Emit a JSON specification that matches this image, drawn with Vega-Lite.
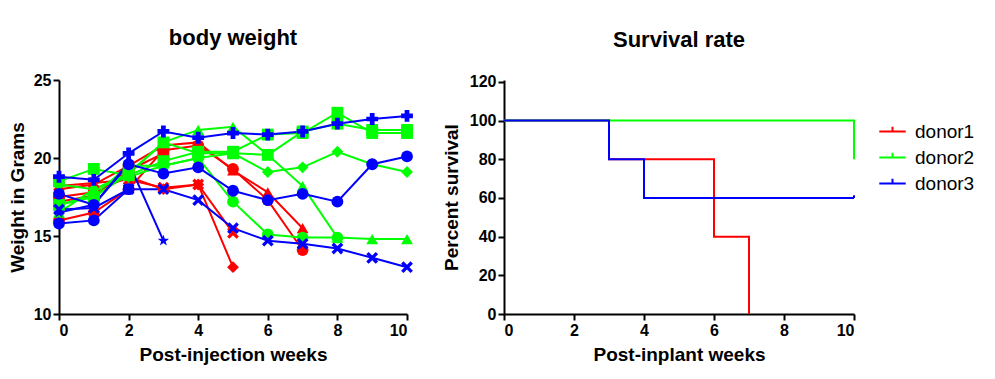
{
  "$schema": "https://vega.github.io/schema/vega-lite/v6.json",
  "background": "white",
  "padding": {"left": 8, "top": 27, "right": 5, "bottom": 5},
  "config": {
    "view": {"stroke": null},
    "font": "Liberation Sans",
    "axis": {
      "grid": false,
      "domainColor": "#000000",
      "domainWidth": 2,
      "tickColor": "#000000",
      "tickWidth": 2,
      "tickSize": 6,
      "labelColor": "#000000",
      "labelFont": "Liberation Sans",
      "labelFontWeight": "bold",
      "labelFontSize": 16,
      "labelPadding": 2,
      "titleColor": "#000000",
      "titleFont": "Liberation Sans",
      "titleFontWeight": "bold",
      "titleFontSize": 19
    },
    "title": {"font": "Liberation Sans", "fontSize": 22, "fontWeight": "bold", "color": "#000000", "offset": 22},
    "legend": {"labelFont": "Liberation Sans", "labelFontSize": 19, "labelColor": "#000000"}
  },
  "datasets": {
    "weights": [
      {"mouse": "R1", "donor": "donor1", "week": 0, "weight": 18.0},
      {"mouse": "R1", "donor": "donor1", "week": 1, "weight": 18.3},
      {"mouse": "R1", "donor": "donor1", "week": 2, "weight": 19.5},
      {"mouse": "R1", "donor": "donor1", "week": 3, "weight": 20.8},
      {"mouse": "R1", "donor": "donor1", "week": 4, "weight": 21.0},
      {"mouse": "R1", "donor": "donor1", "week": 5, "weight": 19.2},
      {"mouse": "R1", "donor": "donor1", "week": 6, "weight": 17.8},
      {"mouse": "R1", "donor": "donor1", "week": 7, "weight": 15.5},
      {"mouse": "R2", "donor": "donor1", "week": 0, "weight": 16.0},
      {"mouse": "R2", "donor": "donor1", "week": 1, "weight": 16.5},
      {"mouse": "R2", "donor": "donor1", "week": 2, "weight": 18.0},
      {"mouse": "R2", "donor": "donor1", "week": 3, "weight": 20.5},
      {"mouse": "R2", "donor": "donor1", "week": 4, "weight": 20.8},
      {"mouse": "R2", "donor": "donor1", "week": 5, "weight": 19.3},
      {"mouse": "R2", "donor": "donor1", "week": 6, "weight": 17.3},
      {"mouse": "R2", "donor": "donor1", "week": 7, "weight": 14.1},
      {"mouse": "R3", "donor": "donor1", "week": 0, "weight": 17.5},
      {"mouse": "R3", "donor": "donor1", "week": 1, "weight": 17.8},
      {"mouse": "R3", "donor": "donor1", "week": 2, "weight": 18.8},
      {"mouse": "R3", "donor": "donor1", "week": 3, "weight": 18.0},
      {"mouse": "R3", "donor": "donor1", "week": 4, "weight": 18.3},
      {"mouse": "R3", "donor": "donor1", "week": 5, "weight": 13.0},
      {"mouse": "R4", "donor": "donor1", "week": 0, "weight": 18.2},
      {"mouse": "R4", "donor": "donor1", "week": 1, "weight": 18.4},
      {"mouse": "R4", "donor": "donor1", "week": 2, "weight": 18.6},
      {"mouse": "R4", "donor": "donor1", "week": 3, "weight": 18.1},
      {"mouse": "R4", "donor": "donor1", "week": 4, "weight": 18.3},
      {"mouse": "R4", "donor": "donor1", "week": 5, "weight": 15.2},
      {"mouse": "R5", "donor": "donor1", "week": 0, "weight": 17.2},
      {"mouse": "R5", "donor": "donor1", "week": 1, "weight": 17.6},
      {"mouse": "R5", "donor": "donor1", "week": 2, "weight": 19.2},
      {"mouse": "R5", "donor": "donor1", "week": 3, "weight": 20.3},
      {"mouse": "G1", "donor": "donor2", "week": 0, "weight": 18.5},
      {"mouse": "G1", "donor": "donor2", "week": 1, "weight": 19.3},
      {"mouse": "G1", "donor": "donor2", "week": 2, "weight": 18.9},
      {"mouse": "G1", "donor": "donor2", "week": 3, "weight": 19.8},
      {"mouse": "G1", "donor": "donor2", "week": 4, "weight": 20.4},
      {"mouse": "G1", "donor": "donor2", "week": 5, "weight": 20.4},
      {"mouse": "G1", "donor": "donor2", "week": 6, "weight": 21.5},
      {"mouse": "G1", "donor": "donor2", "week": 7, "weight": 21.6},
      {"mouse": "G1", "donor": "donor2", "week": 8, "weight": 22.9},
      {"mouse": "G1", "donor": "donor2", "week": 9, "weight": 21.6},
      {"mouse": "G1", "donor": "donor2", "week": 10, "weight": 21.6},
      {"mouse": "G2", "donor": "donor2", "week": 0, "weight": 17.0},
      {"mouse": "G2", "donor": "donor2", "week": 1, "weight": 17.5},
      {"mouse": "G2", "donor": "donor2", "week": 2, "weight": 19.0},
      {"mouse": "G2", "donor": "donor2", "week": 3, "weight": 21.0},
      {"mouse": "G2", "donor": "donor2", "week": 4, "weight": 20.3},
      {"mouse": "G2", "donor": "donor2", "week": 5, "weight": 20.3},
      {"mouse": "G2", "donor": "donor2", "week": 6, "weight": 20.2},
      {"mouse": "G2", "donor": "donor2", "week": 7, "weight": 21.7},
      {"mouse": "G2", "donor": "donor2", "week": 8, "weight": 22.2},
      {"mouse": "G2", "donor": "donor2", "week": 9, "weight": 21.8},
      {"mouse": "G2", "donor": "donor2", "week": 10, "weight": 21.8},
      {"mouse": "G3", "donor": "donor2", "week": 0, "weight": 16.5},
      {"mouse": "G3", "donor": "donor2", "week": 1, "weight": 18.0},
      {"mouse": "G3", "donor": "donor2", "week": 2, "weight": 19.0},
      {"mouse": "G3", "donor": "donor2", "week": 3, "weight": 21.0},
      {"mouse": "G3", "donor": "donor2", "week": 4, "weight": 21.8},
      {"mouse": "G3", "donor": "donor2", "week": 5, "weight": 22.0},
      {"mouse": "G3", "donor": "donor2", "week": 6, "weight": 20.2},
      {"mouse": "G3", "donor": "donor2", "week": 7, "weight": 18.2},
      {"mouse": "G3", "donor": "donor2", "week": 8, "weight": 14.9},
      {"mouse": "G3", "donor": "donor2", "week": 9, "weight": 14.8},
      {"mouse": "G3", "donor": "donor2", "week": 10, "weight": 14.8},
      {"mouse": "G4", "donor": "donor2", "week": 0, "weight": 18.3},
      {"mouse": "G4", "donor": "donor2", "week": 1, "weight": 18.0},
      {"mouse": "G4", "donor": "donor2", "week": 2, "weight": 18.8},
      {"mouse": "G4", "donor": "donor2", "week": 3, "weight": 19.5},
      {"mouse": "G4", "donor": "donor2", "week": 4, "weight": 20.0},
      {"mouse": "G4", "donor": "donor2", "week": 5, "weight": 20.3},
      {"mouse": "G4", "donor": "donor2", "week": 6, "weight": 19.1},
      {"mouse": "G4", "donor": "donor2", "week": 7, "weight": 19.4},
      {"mouse": "G4", "donor": "donor2", "week": 8, "weight": 20.4},
      {"mouse": "G4", "donor": "donor2", "week": 9, "weight": 19.6},
      {"mouse": "G4", "donor": "donor2", "week": 10, "weight": 19.1},
      {"mouse": "G5", "donor": "donor2", "week": 0, "weight": 17.0},
      {"mouse": "G5", "donor": "donor2", "week": 1, "weight": 17.6},
      {"mouse": "G5", "donor": "donor2", "week": 2, "weight": 19.5},
      {"mouse": "G5", "donor": "donor2", "week": 3, "weight": 19.5},
      {"mouse": "G5", "donor": "donor2", "week": 4, "weight": 20.0},
      {"mouse": "G5", "donor": "donor2", "week": 5, "weight": 17.2},
      {"mouse": "G5", "donor": "donor2", "week": 6, "weight": 15.1},
      {"mouse": "G5", "donor": "donor2", "week": 7, "weight": 14.9},
      {"mouse": "G5", "donor": "donor2", "week": 8, "weight": 14.9},
      {"mouse": "B1", "donor": "donor3", "week": 0, "weight": 18.8},
      {"mouse": "B1", "donor": "donor3", "week": 1, "weight": 18.6},
      {"mouse": "B1", "donor": "donor3", "week": 2, "weight": 20.3},
      {"mouse": "B1", "donor": "donor3", "week": 3, "weight": 21.7},
      {"mouse": "B1", "donor": "donor3", "week": 4, "weight": 21.3},
      {"mouse": "B1", "donor": "donor3", "week": 5, "weight": 21.6},
      {"mouse": "B1", "donor": "donor3", "week": 6, "weight": 21.5},
      {"mouse": "B1", "donor": "donor3", "week": 7, "weight": 21.7},
      {"mouse": "B1", "donor": "donor3", "week": 8, "weight": 22.2},
      {"mouse": "B1", "donor": "donor3", "week": 9, "weight": 22.5},
      {"mouse": "B1", "donor": "donor3", "week": 10, "weight": 22.7},
      {"mouse": "B2", "donor": "donor3", "week": 0, "weight": 17.7},
      {"mouse": "B2", "donor": "donor3", "week": 1, "weight": 17.0},
      {"mouse": "B2", "donor": "donor3", "week": 2, "weight": 19.6},
      {"mouse": "B2", "donor": "donor3", "week": 3, "weight": 19.0},
      {"mouse": "B2", "donor": "donor3", "week": 4, "weight": 19.4},
      {"mouse": "B2", "donor": "donor3", "week": 5, "weight": 17.9},
      {"mouse": "B2", "donor": "donor3", "week": 6, "weight": 17.3},
      {"mouse": "B2", "donor": "donor3", "week": 7, "weight": 17.7},
      {"mouse": "B2", "donor": "donor3", "week": 8, "weight": 17.2},
      {"mouse": "B2", "donor": "donor3", "week": 9, "weight": 19.6},
      {"mouse": "B2", "donor": "donor3", "week": 10, "weight": 20.1},
      {"mouse": "B3", "donor": "donor3", "week": 0, "weight": 16.7},
      {"mouse": "B3", "donor": "donor3", "week": 1, "weight": 16.8},
      {"mouse": "B3", "donor": "donor3", "week": 2, "weight": 18.0},
      {"mouse": "B3", "donor": "donor3", "week": 3, "weight": 18.0},
      {"mouse": "B3", "donor": "donor3", "week": 4, "weight": 17.3},
      {"mouse": "B3", "donor": "donor3", "week": 5, "weight": 15.5},
      {"mouse": "B3", "donor": "donor3", "week": 6, "weight": 14.7},
      {"mouse": "B3", "donor": "donor3", "week": 7, "weight": 14.5},
      {"mouse": "B3", "donor": "donor3", "week": 8, "weight": 14.2},
      {"mouse": "B3", "donor": "donor3", "week": 9, "weight": 13.6},
      {"mouse": "B3", "donor": "donor3", "week": 10, "weight": 13.0},
      {"mouse": "B4", "donor": "donor3", "week": 0, "weight": 16.5},
      {"mouse": "B4", "donor": "donor3", "week": 1, "weight": 17.0},
      {"mouse": "B4", "donor": "donor3", "week": 2, "weight": 19.7},
      {"mouse": "B4", "donor": "donor3", "week": 3, "weight": 14.7},
      {"mouse": "B5", "donor": "donor3", "week": 0, "weight": 15.8},
      {"mouse": "B5", "donor": "donor3", "week": 1, "weight": 16.0},
      {"mouse": "B5", "donor": "donor3", "week": 2, "weight": 18.0}
    ],
    "survival": [
      {"donor": "donor1", "seq": 1, "week": 0, "percent": 100},
      {"donor": "donor1", "seq": 2, "week": 3, "percent": 80},
      {"donor": "donor1", "seq": 3, "week": 6, "percent": 40},
      {"donor": "donor1", "seq": 4, "week": 7, "percent": 0},
      {"donor": "donor2", "seq": 1, "week": 0, "percent": 100},
      {"donor": "donor2", "seq": 2, "week": 10, "percent": 100},
      {"donor": "donor2", "seq": 3, "week": 10, "percent": 80},
      {"donor": "donor3", "seq": 1, "week": 0, "percent": 100},
      {"donor": "donor3", "seq": 2, "week": 3, "percent": 80},
      {"donor": "donor3", "seq": 3, "week": 4, "percent": 60},
      {"donor": "donor3", "seq": 4, "week": 10, "percent": 60}
    ],
    "censored": [
      {"donor": "donor3", "week": 10, "percent": 60}
    ]
  },
  "resolve": {"scale": {"color": "independent", "shape": "independent"}, "legend": {"color": "independent"}},
  "spacing": 29,
  "hconcat": [
    {
      "width": 348,
      "height": 234,
      "title": {"text": "body weight"},
      "data": {"name": "weights"},
      "encoding": {
        "x": {"field": "week", "type": "quantitative", "scale": {"domain": [0, 10], "nice": false}, "axis": {"values": [0, 2, 4, 6, 8, 10], "title": "Post-injection weeks", "titlePadding": 7}},
        "y": {"field": "weight", "type": "quantitative", "scale": {"domain": [10, 25], "nice": false, "zero": false}, "axis": {"values": [10, 15, 20, 25], "title": "Weight in Grams", "titlePadding": 6}},
        "color": {"field": "donor", "type": "nominal", "scale": {"domain": ["donor1", "donor2", "donor3"], "range": ["#ff0000", "#00ff00", "#0000ff"]}, "legend": null}
      },
      "layer": [
        {"mark": {"type": "line", "strokeWidth": 2}, "encoding": {"detail": {"field": "mouse", "type": "nominal"}, "order": {"field": "week", "type": "quantitative"}}},
        {"mark": {"type": "point", "filled": true, "opacity": 1, "size": 140},
         "encoding": {"shape": {"field": "mouse", "type": "nominal",
           "scale": {"domain": ["R1", "R2", "R3", "R4", "R5", "G1", "G2", "G3", "G4", "G5", "B1", "B2", "B3", "B4", "B5"],
                     "range": ["triangle-up", "circle", "diamond", "M-1,-0.6L-0.6,-1L0,-0.4L0.6,-1L1,-0.6L0.4,0L1,0.6L0.6,1L0,0.4L-0.6,1L-1,0.6L-0.4,0Z", "square", "square", "square", "triangle-up", "diamond", "circle", "cross", "circle", "M-1,-0.6L-0.6,-1L0,-0.4L0.6,-1L1,-0.6L0.4,0L1,0.6L0.6,1L0,0.4L-0.6,1L-1,0.6L-0.4,0Z", "M0,-1L0.24,-0.33L0.95,-0.31L0.38,0.12L0.59,0.81L0,0.4L-0.59,0.81L-0.38,0.12L-0.95,-0.31L-0.24,-0.33Z", "circle"]},
           "legend": null}}}
      ]
    },
    {
      "width": 350,
      "height": 234,
      "title": {"text": "Survival rate"},
      "encoding": {
        "x": {"field": "week", "type": "quantitative", "scale": {"domain": [0, 10], "nice": false}, "axis": {"values": [0, 2, 4, 6, 8, 10], "title": "Post-inplant weeks", "titlePadding": 7}},
        "y": {"field": "percent", "type": "quantitative", "scale": {"domain": [0, 121], "nice": false}, "axis": {"values": [0, 20, 40, 60, 80, 100, 120], "title": "Percent survival", "titlePadding": 8}},
        "color": {"field": "donor", "type": "nominal", "scale": {"domain": ["donor1", "donor2", "donor3"], "range": ["#ff0000", "#00ff00", "#0000ff"]},
          "legend": {"title": null, "orient": "none", "legendX": 374, "legendY": 37, "symbolType": "M-1,0H1M0,0V-0.35", "symbolSize": 700, "symbolStrokeWidth": 2, "rowPadding": 1, "labelOffset": 8, "padding": 0}}
      },
      "layer": [
        {"data": {"name": "survival"}, "mark": {"type": "line", "interpolate": "step-after", "strokeWidth": 2},
         "encoding": {"order": {"field": "seq", "type": "quantitative"}}},
        {"data": {"name": "censored"}, "mark": {"type": "point", "shape": "M0,0V-1", "size": 30, "strokeWidth": 2, "opacity": 1, "filled": false}}
      ]
    }
  ]
}
